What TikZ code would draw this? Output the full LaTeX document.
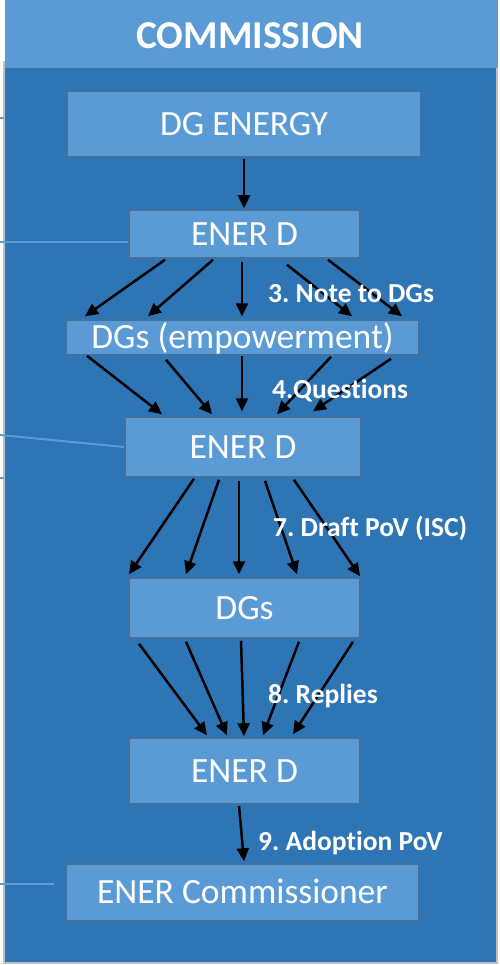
\documentclass[tikz,border=0pt]{standalone}
\usepackage{fontspec}
\setmainfont{Carlito}[Ligatures=NoCommon]
\usetikzlibrary{arrows.meta,calc}
\definecolor{darkblue}{HTML}{2E75B6}
\definecolor{lightblue}{HTML}{5B9BD5}
\definecolor{boxborder}{HTML}{41719C}
\definecolor{framegray}{HTML}{C0C0C0}
\frenchspacing
\begin{document}
\begin{tikzpicture}[x=1pt,y=-1pt,
  box/.style={draw=boxborder, line width=1.5pt, fill=lightblue, text=white, inner sep=0pt,
    font=\fontsize{35.5}{42}\selectfont, text height=22.4pt, text depth=0pt, anchor=center},
  lbl/.style={text=white, font=\bfseries\fontsize{27.5}{33}\selectfont, inner sep=0pt,
    anchor=west, text height=17.3pt, text depth=0pt},
  flow/.style={draw=black, line width=2.5pt, -{Triangle[length=13pt,width=12pt]}},
  ext/.style={draw=lightblue, line width=2pt}]
\useasboundingbox (0,0) rectangle (499,965);
\fill[white] (0,0) rectangle (499,965);
% frame
\draw[framegray, line width=1.5pt, fill=darkblue] (4,62) rectangle (497,963);
\fill[lightblue] (5,0) rectangle (498,68);
\node[text=white, inner sep=0pt, font=\bfseries\fontsize{39.5}{46}\selectfont,
  text height=24.9pt, text depth=0pt] (title) at (250,36.5) {COMMISSION};
% boxes
\node[box, minimum width=354pt, minimum height=66pt] (dge) at (244,124) {DG ENERGY};
\node[box, minimum width=231pt, minimum height=48pt] (d1) at (244.5,234) {ENER D};
\node[box, minimum width=353pt, minimum height=35pt] (emp) at (242.5,337.5) {DGs (empowerment)};
\node[box, minimum width=236pt, minimum height=60pt] (d2) at (243,447) {ENER D};
\node[box, minimum width=231pt, minimum height=60pt] (dgs) at (244.5,608) {DGs};
\node[box, minimum width=231pt, minimum height=66pt] (d3) at (244.5,771) {ENER D};
\node[box, minimum width=353pt, minimum height=57pt] (com) at (242.5,892.5) {ENER Commissioner};
% external lines
\coordinate (x1) at (0,242);
\coordinate (x2) at (0,435);
\coordinate (x3) at (0,884);
\coordinate (x3e) at (54,884);
\coordinate (s1a) at (0,118);
\coordinate (s1b) at (4,118);
\coordinate (s2a) at (0,478);
\coordinate (s2b) at (4,478);
\draw[ext] (x1) -- ($(d1.west)+(0,8)$);
\draw[ext] (x2) -- (d2.west);
\draw[ext] (x3) -- (x3e);
\draw[ext, line width=2.5pt] (s1a) -- (s1b);
\draw[ext, line width=2.5pt] (s2a) -- (s2b);
% arrows
\draw[flow] ($(dge.south)+(0,1)$) -- ($(d1.north)+(-0.5,-1)$);
\draw[flow] ($(d1.south)+(-79.5,1)$) -- ($(emp.north)+(-157.5,-3)$);
\draw[flow] ($(d1.south)+(-31.5,1)$) -- ($(emp.north)+(-94.5,-3)$);
\draw[flow] ($(d1.south)+(-2.5,3)$) -- ($(emp.north)+(-0.5,-3)$);
\draw[flow] ($(d1.south)+(42.5,6)$) -- ($(emp.north)+(109.5,-3)$);
\draw[flow] ($(d1.south)+(83.5,1)$) -- ($(emp.north)+(159.5,-3)$);
\draw[flow] ($(emp.south)+(-155.5,0)$) -- ($(d2.north)+(-81,-2)$);
\draw[flow] ($(emp.south)+(-76.5,4)$) -- ($(d2.north)+(-31,-2)$);
\draw[flow] ($(emp.south)+(-0.5,0)$) -- ($(d2.north)+(-1,-5)$);
\draw[flow] ($(emp.south)+(88.5,1)$) -- ($(d2.north)+(34,-2)$);
\draw[flow] ($(emp.south)+(148.5,3)$) -- ($(d2.north)+(70,-5)$);
\draw[flow] ($(d2.south)+(-49,1)$) -- ($(dgs.north)+(-115.5,-3)$);
\draw[flow] ($(d2.south)+(-24,2)$) -- ($(dgs.north)+(-58.5,-3)$);
\draw[flow] ($(d2.south)+(-4,3)$) -- ($(dgs.north)+(-5.5,-3)$);
\draw[flow] ($(d2.south)+(22,3)$) -- ($(dgs.north)+(52.5,-3)$);
\draw[flow] ($(d2.south)+(51,2)$) -- ($(dgs.north)+(115.5,-1)$);
\draw[flow] ($(dgs.south)+(-105.5,5)$) -- ($(d3.north)+(-37.5,-2)$);
\draw[flow] ($(dgs.south)+(-58.5,3)$) -- ($(d3.north)+(-17.5,-2)$);
\draw[flow] ($(dgs.south)+(-3.5,2)$) -- ($(d3.north)+(-0.5,-1)$);
\draw[flow] ($(dgs.south)+(54.5,3)$) -- ($(d3.north)+(18.5,-2)$);
\draw[flow] ($(dgs.south)+(108.5,3)$) -- ($(d3.north)+(48.5,-3)$);
\draw[flow] ($(d3.south)+(-5.5,1)$) -- ($(com.north)+(1.5,-2)$);
% labels (on top of arrows)
\node[lbl] (l3) at (268,294) {3. Note to DGs};
\node[lbl] (l4) at (272,390) {4.Questions};
\node[lbl] (l7) at (273,528) {7. Draft PoV (ISC)};
\node[lbl] (l8) at (268,695) {8. Replies};
\node[lbl] (l9) at (258,842) {9. Adoption PoV};
\end{tikzpicture}
\end{document}
